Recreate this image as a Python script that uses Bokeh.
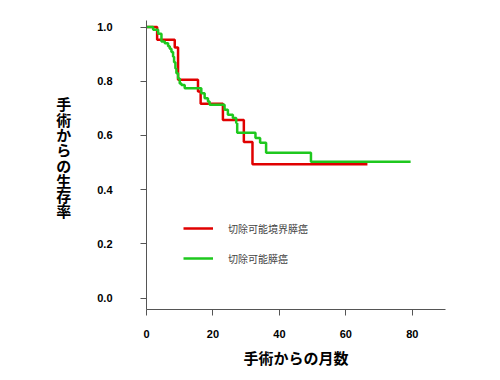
from bokeh.plotting import figure
from bokeh.models import Range1d, FixedTicker, PrintfTickFormatter, Legend, LegendItem
from bokeh.embed import file_html
from bokeh.resources import INLINE

# Data
red_t = [0, 3.2, 8.5, 9.5, 15.5, 16.3, 23.0, 29.3, 31.9, 66.5]
red_s = [1.0, 0.953, 0.924, 0.805, 0.762, 0.717, 0.657, 0.576, 0.494, 0.494]
green_t = [0, 2.0, 3.5, 4.5, 5.5, 6.5, 7.0, 7.5, 8.0, 8.3, 8.7, 9.0, 9.5, 10.0, 10.5, 11.5,
           16.5, 17.5, 18.5, 19.0, 23.5, 24.5, 26.0, 27.0, 27.3, 32.8, 34.2, 36.0, 49.5, 79.5]
green_s = [1.0, 0.99, 0.975, 0.947, 0.94, 0.929, 0.92, 0.908, 0.89, 0.87, 0.847, 0.829, 0.81, 0.792, 0.786, 0.774,
           0.756, 0.737, 0.725, 0.713, 0.695, 0.676, 0.664, 0.646, 0.61, 0.591, 0.573, 0.536, 0.503, 0.503]
red_name = "切除可能境界膵癌"
green_name = "切除可能膵癌"
x_ticks = [0, 20, 40, 60, 80]
y_ticks = [0.0, 0.2, 0.4, 0.6, 0.8, 1.0]
x_title = "手術からの月数"
y_title = "手術からの生存率"

p = figure(width=488, height=370, output_backend="svg", toolbar_location=None,
           x_range=Range1d(0, 90), y_range=Range1d(-0.042, 1.024),
           min_border_left=146, min_border_right=43, min_border_top=20, min_border_bottom=58)
p.outline_line_color = None
p.xgrid.visible = False
p.ygrid.visible = False

red = "#e00000"
green = "#1ec81e"
r1 = p.step(red_t, red_s, mode="after", line_color=red, line_width=2.5)
r2 = p.step(green_t, green_s, mode="after", line_color=green, line_width=2.5)

for ax in (p.xaxis[0], p.yaxis[0]):
    ax.axis_line_color = "#555555"
    ax.major_tick_line_color = "#555555"
    ax.major_tick_out = 6
    ax.major_tick_in = 0
    ax.minor_tick_line_color = None
    ax.major_label_text_font = "Liberation Sans"
    ax.major_label_text_font_style = "bold"
    ax.major_label_text_font_size = "11px"
    ax.major_label_text_color = "black"

p.xaxis.ticker = FixedTicker(ticks=x_ticks)
p.yaxis.ticker = FixedTicker(ticks=y_ticks)
p.yaxis.formatter = PrintfTickFormatter(format="%.1f")
p.xaxis.major_label_standoff = 14
p.yaxis.major_label_standoff = 28

p.xaxis.axis_label = x_title
p.xaxis.axis_label_text_font = "Noto Sans CJK JP"
p.xaxis.axis_label_text_font_style = "bold"
p.xaxis.axis_label_text_font_size = "15px"
p.xaxis.axis_label_text_color = "black"
p.xaxis.axis_label_standoff = 6

# stacked vertical y title
p.yaxis.axis_label = "\n".join(y_title) + "\n"
p.yaxis.axis_label_orientation = "horizontal"
p.yaxis.axis_label_text_font = "Noto Sans CJK JP"
p.yaxis.axis_label_text_font_style = "bold"
p.yaxis.axis_label_text_font_size = "15px"
p.yaxis.axis_label_text_color = "black"
p.yaxis.axis_label_text_line_height = 0.73
p.yaxis.axis_label_standoff = 23

legend = Legend(items=[LegendItem(label=red_name, renderers=[r1]),
                       LegendItem(label=green_name, renderers=[r2])],
                location=(37, 43), border_line_color=None, background_fill_alpha=0,
                glyph_width=30, glyph_height=16, label_height=16, label_standoff=15,
                spacing=14, padding=0, margin=0,
                label_text_font="Noto Sans CJK JP", label_text_font_size="10px")
p.add_layout(legend)

open("out.html", "w").write(file_html(p, INLINE))
